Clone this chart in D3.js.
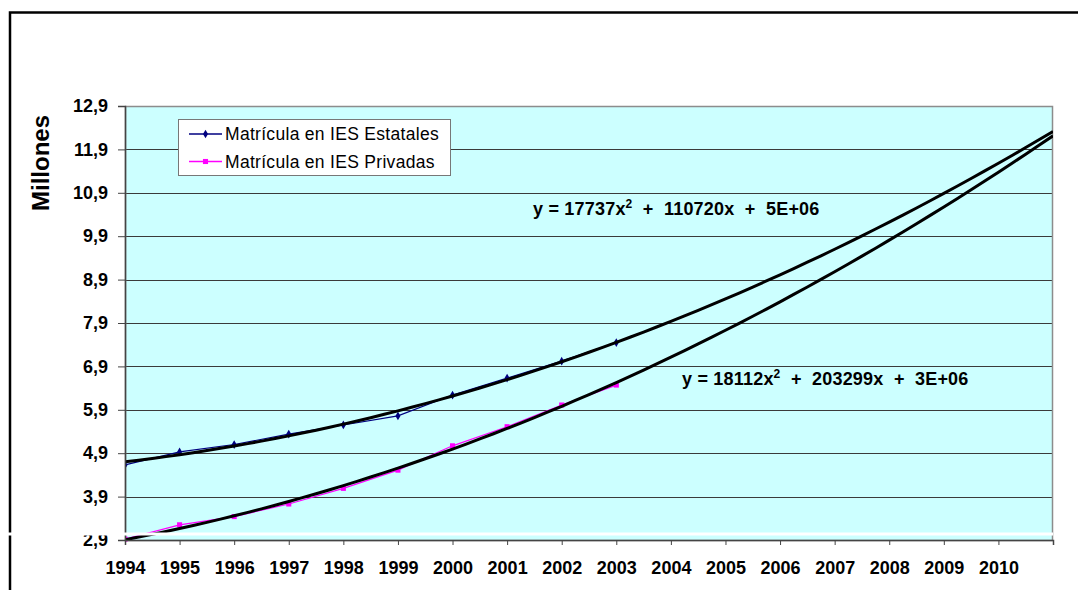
<!DOCTYPE html>
<html>
<head>
<meta charset="utf-8">
<script src="https://cdn.jsdelivr.net/npm/d3@7"></script>
<style>
  html, body { margin: 0; padding: 0; background: #fff; }
  svg { display: block; font-family: "Liberation Sans", Arial, sans-serif; }
</style>
</head>
<body>
<svg id="chart" width="1078" height="590"></svg>
<script>
// Enrolment (millions of students), 1994-2003
const years = [1994, 1995, 1996, 1997, 1998, 1999, 2000, 2001, 2002, 2003];
const estatales = [4.63, 4.93, 5.10, 5.34, 5.55, 5.76, 6.24, 6.63, 7.02, 7.45];
const privadas  = [2.92, 3.25, 3.44, 3.73, 4.09, 4.51, 5.07, 5.51, 6.01, 6.47];

const seriesNames = ["Matrícula en IES Estatales", "Matrícula en IES Privadas"];
// polynomial trendline coefficients as printed (persons): x^2 and x terms
const quadCoef = [17737, 18112];
const linCoef  = [110720, 203299];
const equations = [
  { base: "y = 17737x", exp: "2", rest: " + 110720x + 5E+06" },
  { base: "y = 18112x", exp: "2", rest: " + 203299x + 3E+06" }
];
const yTicks = [2.9, 3.9, 4.9, 5.9, 6.9, 7.9, 8.9, 9.9, 10.9, 11.9, 12.9];
const xTicks = [1994, 1995, 1996, 1997, 1998, 1999, 2000, 2001, 2002, 2003,
                2004, 2005, 2006, 2007, 2008, 2009, 2010, 2011];
const lastYear = 2011; // trendlines projected forward to here

const svg = d3.select("#chart");
const plot = { left: 125, right: 1053, top: 106, bottom: 540 };

const x = d3.scaleLinear().domain([1994, 2011]).range([plot.left, plot.right]);
const y = d3.scaleLinear().domain([2.9, 12.9]).range([plot.bottom, plot.top]);

// outer chart frame (top and left edges)
svg.append("path")
  .attr("d", `M10,590 V12.5 H1078`)
  .attr("fill", "none").attr("stroke", "#000").attr("stroke-width", 2.5);

// plot background
svg.append("rect")
  .attr("x", plot.left).attr("y", plot.top)
  .attr("width", plot.right - plot.left).attr("height", plot.bottom - plot.top)
  .attr("fill", "#ccffff");

// horizontal gridlines
svg.append("g").selectAll("line").data(yTicks.slice(1, -1)).join("line")
  .attr("x1", plot.left).attr("x2", plot.right)
  .attr("y1", d => Math.round(y(d)) + 0.5).attr("y2", d => Math.round(y(d)) + 0.5)
  .attr("stroke", "#3a3a3a").attr("stroke-width", 1);

// plot frame
svg.append("rect")
  .attr("x", plot.left + 0.5).attr("y", plot.top + 0.5)
  .attr("width", plot.right - plot.left - 1).attr("height", plot.bottom - plot.top)
  .attr("fill", "none").attr("stroke", "#8c8c8c").attr("stroke-width", 1.5);

// trendline y = a x^2 + b x + c on category index x = 1..n (values in millions);
// a and b are the printed coefficients, c is the least-squares intercept
function trend(vals, a, b) {
  a /= 1e6; b /= 1e6;
  const c = d3.mean(vals, (v, i) => v - a * (i + 1) ** 2 - b * (i + 1));
  return xi => a * xi * xi + b * xi + c;
}

svg.append("clipPath").attr("id", "plotClip")
  .append("rect").attr("x", plot.left).attr("y", plot.top - 2)
  .attr("width", plot.right - plot.left).attr("height", plot.bottom - plot.top + 4);

const layer = svg.append("g").attr("clip-path", "url(#plotClip)");

const lineGen = d3.line().x(d => x(d[0])).y(d => y(d[1]));

const series = [
  { vals: estatales, color: "#000080", marker: "diamond" },
  { vals: privadas,  color: "#ff00ff", marker: "square" }
];

// data lines and markers
series.forEach(s => {
  const pts = years.map((yr, i) => [yr, s.vals[i]]);
  layer.append("path").attr("d", lineGen(pts))
    .attr("fill", "none").attr("stroke", s.color).attr("stroke-width", 1.2);
  const sym = d3.symbol().type(s.marker === "diamond" ? d3.symbolDiamond : d3.symbolSquare)
    .size(s.marker === "diamond" ? 22 : 26);
  layer.append("g").selectAll("path").data(pts).join("path")
    .attr("transform", d => `translate(${x(d[0])},${y(d[1])})`)
    .attr("d", sym).attr("fill", s.color);
});

// polynomial trendlines, projected to lastYear
series.forEach((s, k) => {
  const f = trend(s.vals, quadCoef[k], linCoef[k]);
  const pts = d3.range(years[0], lastYear + 0.001, 0.25).map(yr => [yr, f(yr - years[0] + 1)]);
  layer.append("path").attr("d", lineGen(pts))
    .attr("fill", "none").attr("stroke", "#000").attr("stroke-width", 3)
    .attr("stroke-linejoin", "round");
});

// axes
const yAxis = svg.append("g").attr("transform", `translate(${plot.left},0)`)
  .call(d3.axisLeft(y).tickValues(yTicks).tickSize(7).tickPadding(10)
    .tickFormat(d => d3.format(".1f")(d).replace(".", ",")));
yAxis.select(".domain").attr("stroke", "#444").attr("stroke-width", 1.5);
yAxis.selectAll(".tick line").attr("stroke", "#444");
yAxis.selectAll("text").attr("font-size", 18).attr("font-weight", "bold")
  .attr("fill", "#000").attr("font-family", "'Liberation Sans', Arial, sans-serif");

const xAxis = svg.append("g").attr("transform", `translate(0,${plot.bottom})`)
  .call(d3.axisBottom(x).tickValues(xTicks).tickSize(5).tickPadding(16)
    .tickFormat(d => d === lastYear ? "" : String(d)));
xAxis.select(".domain").attr("stroke", "#444").attr("stroke-width", 1.5);
xAxis.selectAll(".tick line").attr("stroke", "#444");
xAxis.selectAll("text").attr("font-size", 18).attr("font-weight", "bold")
  .attr("fill", "#000").attr("font-family", "'Liberation Sans', Arial, sans-serif");

// thin white band crossing the lower edge of the chart
svg.append("line")
  .attr("x1", 0).attr("x2", plot.right).attr("y1", 534).attr("y2", 534)
  .attr("stroke", "#fff").attr("stroke-width", 3);

// y-axis title
svg.append("text")
  .attr("transform", "translate(49,163) rotate(-90)")
  .attr("text-anchor", "middle")
  .attr("font-size", 24).attr("font-weight", "bold")
  .text("Millones");

// legend
const legend = svg.append("g");
legend.append("rect")
  .attr("x", 178.5).attr("y", 119.5).attr("width", 272).attr("height", 56)
  .attr("fill", "#fff").attr("stroke", "#777").attr("stroke-width", 1);
series.forEach((s, i) => {
  const cy = 134 + i * 27.5;
  legend.append("line").attr("x1", 189).attr("x2", 222).attr("y1", cy).attr("y2", cy)
    .attr("stroke", s.color).attr("stroke-width", 1.5);
  legend.append("path").attr("transform", `translate(205.5,${cy})`)
    .attr("d", d3.symbol().type(s.marker === "diamond" ? d3.symbolDiamond : d3.symbolSquare)
      .size(s.marker === "diamond" ? 22 : 26)())
    .attr("fill", s.color);
  legend.append("text").attr("x", 225).attr("y", cy).attr("dy", "0.36em")
    .attr("font-size", 17.5).attr("letter-spacing", 0.3).attr("fill", "#000")
    .text(seriesNames[i]);
});

// trendline equations
const eqPos = [[533, 215], [682, 385]];
equations.forEach((e, i) => {
  const t = svg.append("text").attr("x", eqPos[i][0]).attr("y", eqPos[i][1])
    .attr("font-size", 18).attr("font-weight", "bold").attr("letter-spacing", 0.2)
    .attr("fill", "#000").attr("xml:space", "preserve");
  t.append("tspan").text(e.base);
  t.append("tspan").attr("font-size", 12).attr("dy", -7).text(e.exp);
  t.append("tspan").attr("dy", 7).text(e.rest.replace(/ \+ /g, "  +  "));
});
</script>
</body>
</html>
